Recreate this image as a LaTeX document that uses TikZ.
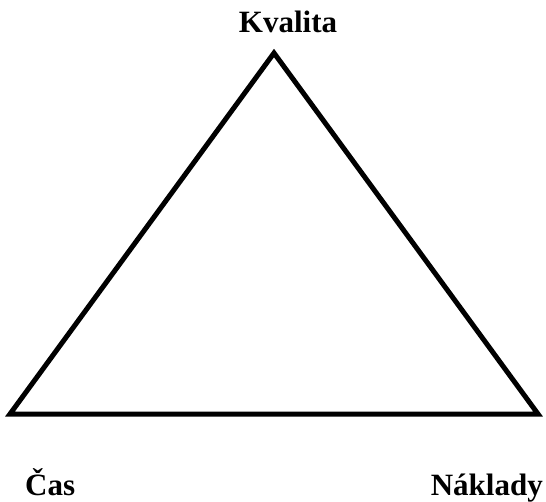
\documentclass[tikz,border=0pt]{standalone}
\usepackage{fontspec}
\setmainfont{Liberation Serif}
\begin{document}
\begin{tikzpicture}[x=1pt,y=-1pt,
  lbl/.style={font=\fontsize{31}{36}\selectfont\bfseries,inner sep=0pt},
  edge/.style={line width=5pt,line join=miter}]
\useasboundingbox (0,0) rectangle (546,502);
\coordinate (K) at (274,53);
\coordinate (C) at (10,414);
\coordinate (N) at (538,414);
\draw[edge] (K) -- (C) -- (N) -- cycle;
\node[lbl,anchor=base] (tk) at (288,33) {Kvalita};
\node[lbl,anchor=base west] (tc) at (25,495) {Čas};
\node[lbl,anchor=base east] (tn) at (543,495) {Náklady};
\end{tikzpicture}
\end{document}
